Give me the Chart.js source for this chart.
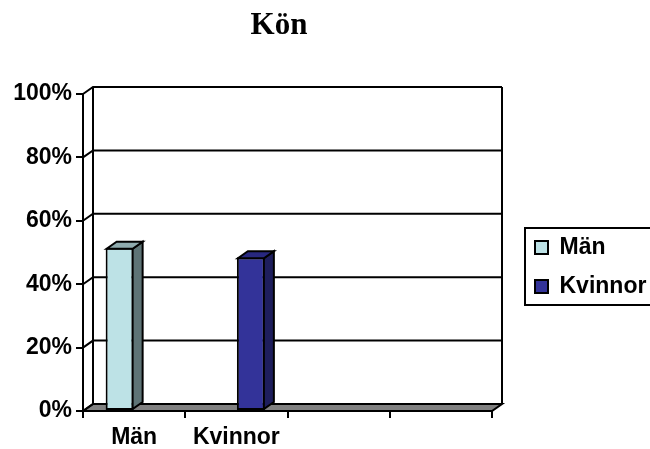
<!DOCTYPE html>
<html>
<head>
<meta charset="utf-8">
<script src="https://cdn.jsdelivr.net/npm/chart.js@4/dist/chart.umd.min.js"></script>
<style>
  html, body { margin: 0; padding: 0; background: #ffffff; }
  #wrap { width: 650px; height: 449px; }
</style>
</head>
<body>
<div id="wrap"><canvas id="c" width="650" height="449"></canvas></div>
<script>
// Categories along the floor and the two series (share of respondents, %)
const categories = ['Män', 'Kvinnor', '', ''];
const seriesNames = ['Män', 'Kvinnor'];
const manValues = [51.5, null, null, null];
const kvinnorValues = [null, 48.5, null, null];
const yTickValues = [0, 20, 40, 60, 80, 100];
const titleText = 'Kön';

// Styling
const frontColors = ['#BDE2E6', '#333399'];
const topColors = ['#8FABAE', '#28287F'];
const sideColors = ['#5E7476', '#1E1E5C'];
const DX = 10, DY = 7;           // oblique depth of the 3-D box
const AXIS_FONT = { family: '"Liberation Sans", Arial, sans-serif', weight: 'bold', size: 23 };

function poly(ctx, pts, fill) {
  ctx.beginPath();
  ctx.moveTo(pts[0][0], pts[0][1]);
  for (let i = 1; i < pts.length; i++) ctx.lineTo(pts[i][0], pts[i][1]);
  ctx.closePath();
  if (fill) { ctx.fillStyle = fill; ctx.fill(); }
  ctx.stroke();
}

// Back wall, floor, bar depth faces, legend frame and title
const box3d = {
  id: 'box3d',
  afterLayout(chart) {
    const lg = chart.legend;
    if (!lg) return;
    lg.left = 519; lg.top = 220; lg.right = 650; lg.bottom = 449;
    lg.width = lg.right - lg.left; lg.height = lg.bottom - lg.top;
  },
  beforeDatasetsDraw(chart) {
    const { ctx, chartArea: { left, right, top, bottom }, scales: { y } } = chart;
    ctx.save();
    ctx.lineWidth = 2;
    ctx.strokeStyle = '#000';
    ctx.lineJoin = 'miter';
    // floor
    poly(ctx, [[left, bottom], [right, bottom], [right + DX, bottom - DY], [left + DX, bottom - DY]], '#808080');
    // gridlines on the side and back walls
    y.ticks.forEach(t => {
      const py = y.getPixelForValue(t.value);
      ctx.beginPath();
      ctx.moveTo(left, py);
      ctx.lineTo(left + DX, py - DY);
      ctx.lineTo(right + DX, py - DY);
      ctx.stroke();
    });
    // back wall edges
    ctx.beginPath();
    ctx.moveTo(left + DX, top - DY); ctx.lineTo(left + DX, bottom - DY);
    ctx.moveTo(right + DX, top - DY); ctx.lineTo(right + DX, bottom - DY);
    ctx.stroke();
    ctx.restore();
  },
  afterDatasetsDraw(chart) {
    const ctx = chart.ctx;
    ctx.save();
    ctx.lineWidth = 2;
    ctx.strokeStyle = '#000';
    chart.data.datasets.forEach((ds, i) => {
      const meta = chart.getDatasetMeta(i);
      meta.data.forEach((bar, j) => {
        if (ds.data[j] == null) return;
        const { x, y, base, width } = bar.getProps(['x', 'y', 'base', 'width'], true);
        const l = x - width / 2 + 1, r = x + width / 2 - 1, t = y + 1, b = base - 1;
        poly(ctx, [[r, t], [r + DX, t - DY], [r + DX, b - DY], [r, b]], sideColors[i]);
        poly(ctx, [[l, t], [l + DX, t - DY], [r + DX, t - DY], [r, t]], topColors[i]);
      });
    });
    ctx.restore();
  },
  afterDraw(chart) {
    const ctx = chart.ctx;
    ctx.save();
    ctx.lineWidth = 2;
    ctx.strokeStyle = '#000';
    ctx.strokeRect(525, 228, 130, 77);
    ctx.fillStyle = '#000';
    ctx.font = 'bold 31px "Liberation Serif", "Times New Roman", serif';
    ctx.textAlign = 'center';
    ctx.textBaseline = 'alphabetic';
    ctx.fillText(titleText, 279, 34);
    ctx.restore();
  }
};

new Chart(document.getElementById('c'), {
  type: 'bar',
  data: {
    labels: categories,
    datasets: [
      { label: seriesNames[0], data: manValues, backgroundColor: frontColors[0],
        borderColor: '#000', borderWidth: 2, borderSkipped: false },
      { label: seriesNames[1], data: kvinnorValues, backgroundColor: frontColors[1],
        borderColor: '#000', borderWidth: 2, borderSkipped: false }
    ]
  },
  options: {
    responsive: false,
    animation: false,
    categoryPercentage: 0.567,
    barPercentage: 0.966,
    layout: { padding: { top: 94, right: 158, left: 0, bottom: 0 } },
    plugins: {
      title: { display: false },
      tooltip: { enabled: false },
      legend: {
        position: 'chartArea',
        align: 'start',
        labels: { boxWidth: 13, boxHeight: 13, padding: 16, color: '#000', font: AXIS_FONT }
      }
    },
    scales: {
      x: {
        grid: { offset: true, drawOnChartArea: false, drawTicks: true, tickLength: 7, color: '#000', lineWidth: 2 },
        border: { display: true, color: '#000', width: 2 },
        ticks: { color: '#000', font: AXIS_FONT, padding: 6, maxRotation: 0, autoSkip: false },
        afterFit(scale) { scale.height = 38; }
      },
      y: {
        min: 0, max: 100,
        afterBuildTicks(scale) { scale.ticks = yTickValues.map(v => ({ value: v })); },
        grid: { drawOnChartArea: false, drawTicks: true, tickLength: 7, color: '#000', lineWidth: 2 },
        border: { display: true, color: '#000', width: 2 },
        ticks: { color: '#000', font: AXIS_FONT, padding: 4, callback: v => v + '%' },
        afterFit(scale) { scale.width = 83; }
      }
    }
  },
  plugins: [box3d]
});
</script>
</body>
</html>
